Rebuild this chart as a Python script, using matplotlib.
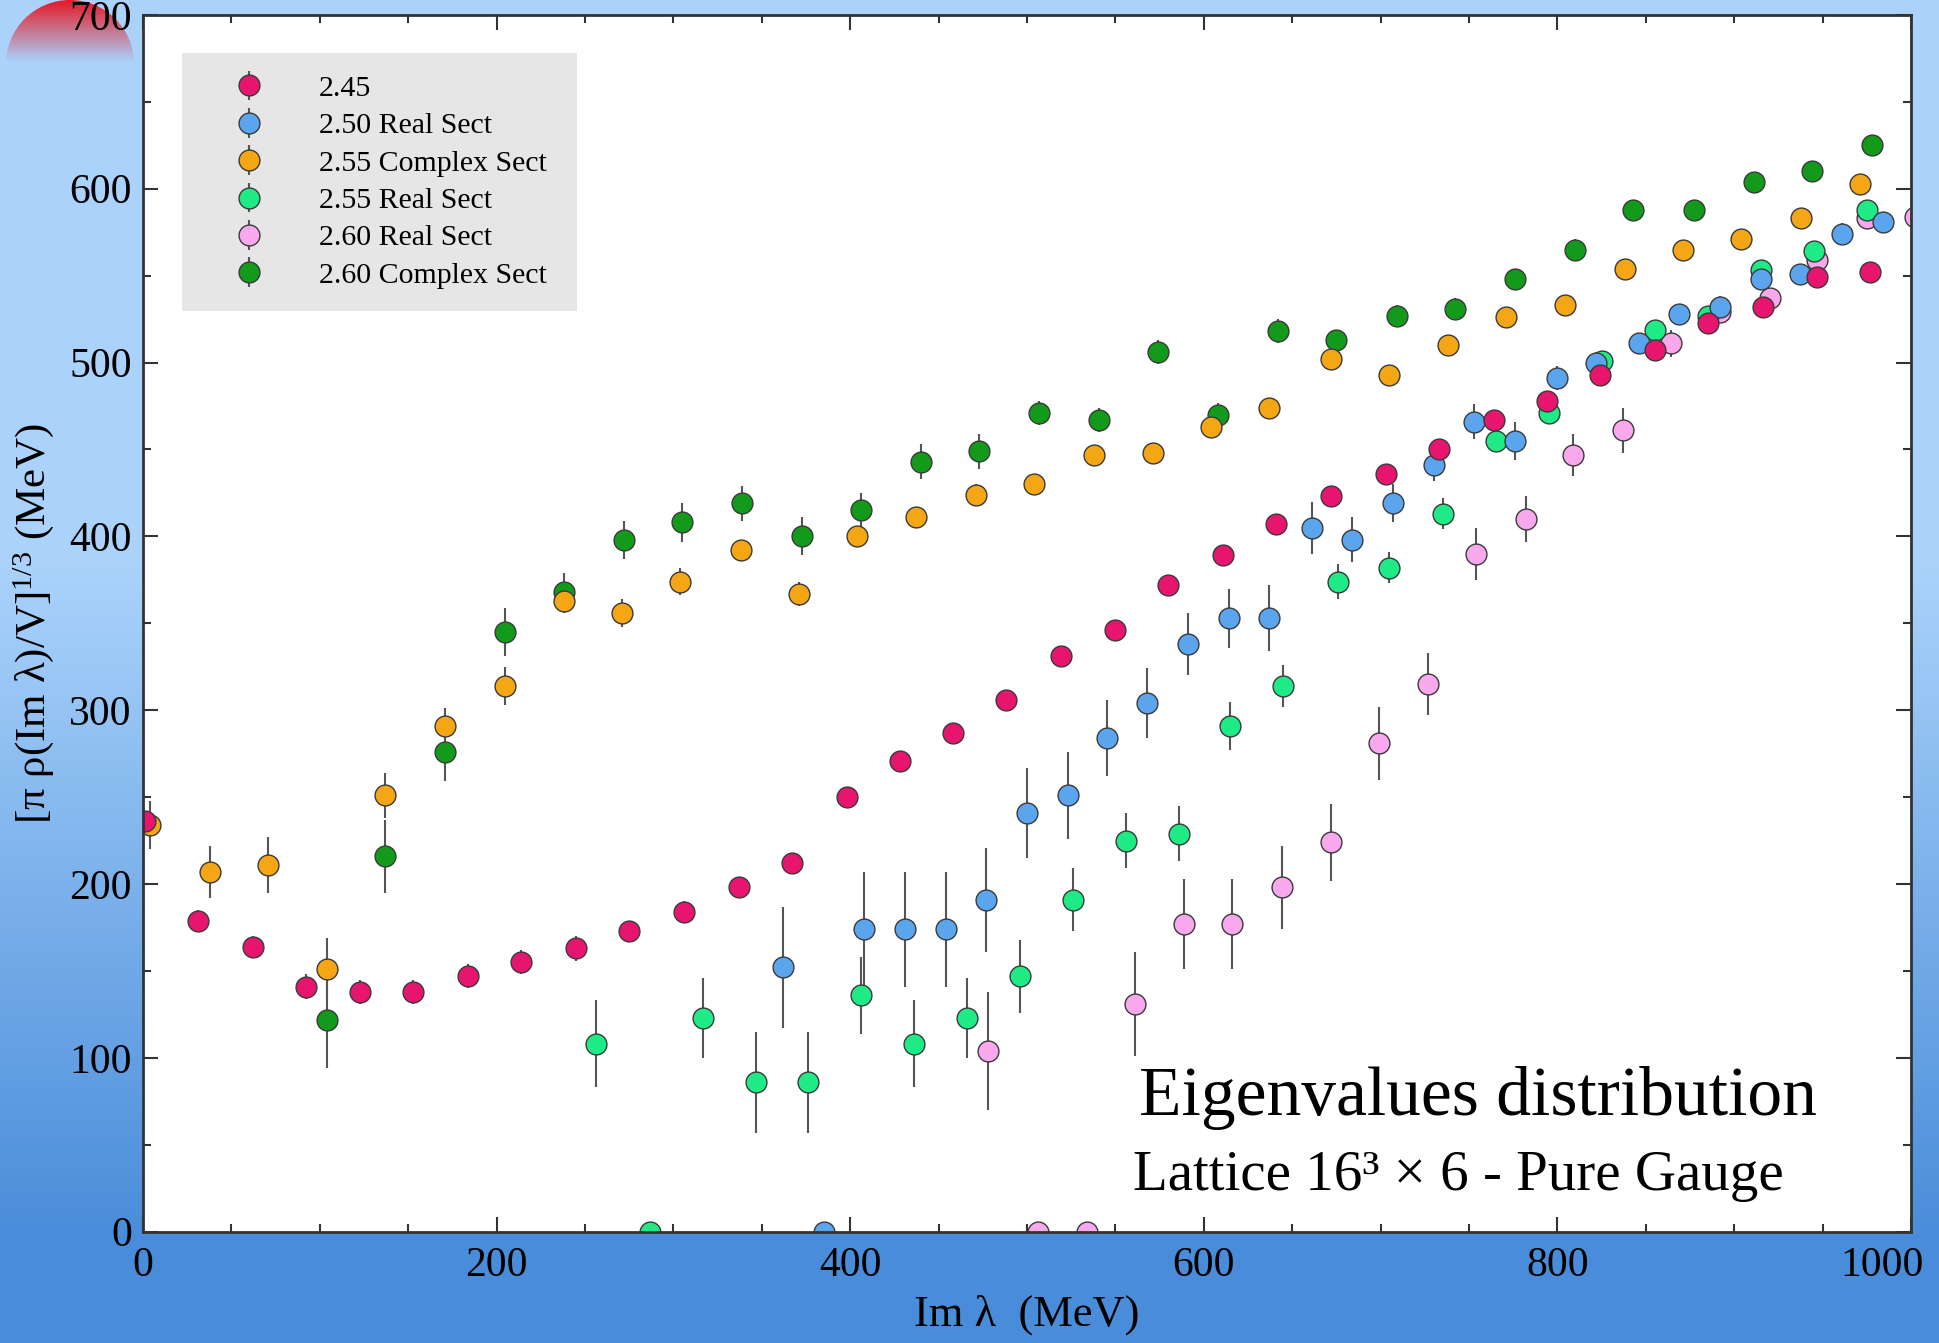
import numpy as np
import matplotlib
matplotlib.use("Agg")
import matplotlib.pyplot as plt
from matplotlib.patches import Circle
from matplotlib.ticker import MultipleLocator, FuncFormatter

plt.rcParams['font.family'] = ['Liberation Serif', 'DejaVu Serif']
plt.rcParams['mathtext.fontset'] = 'custom'
plt.rcParams['mathtext.rm'] = 'Liberation Serif'
plt.rcParams['mathtext.it'] = 'Liberation Serif:italic'

# beta = 2.45
x_245 = [1, 31, 62, 92, 123, 153, 184, 214, 245, 275, 306, 337, 367, 398, 428, 458, 488,
         519, 550, 580, 611, 641, 672, 703, 733, 764, 794, 824, 855, 885, 916, 947, 977]
y_245 = [236, 179, 164, 141, 138, 138, 147, 155, 163, 173, 184, 198, 212, 250, 271, 287, 306,
         331, 346, 372, 389, 407, 423, 436, 450, 467, 478, 493, 507, 523, 532, 549, 552]
e_245 = [5, 6, 6, 7, 7, 7, 7, 7, 7, 6, 6, 5, 5, 4, 4, 4, 4,
         4, 4, 4, 4, 4, 4, 4, 4, 4, 4, 4, 4, 4, 4, 4, 4]

# beta = 2.50 real sector
x_250r = [362, 385, 408, 431, 454, 477, 500, 523, 545, 568, 591, 614, 637, 661,
          684, 707, 730, 753, 776, 800, 822, 846, 869, 892, 915, 937, 961, 984]
y_250r = [152, 0, 174, 174, 174, 191, 241, 251, 284, 304, 338, 353, 353, 405,
          398, 419, 441, 466, 455, 491, 500, 511, 528, 532, 548, 551, 574, 581]
e_250r = [35, 0, 33, 33, 33, 30, 26, 25, 22, 20, 18, 17, 19, 15,
          13, 11, 9, 10, 11, 7, 6, 6, 5, 6, 6, 5, 6, 5]

# beta = 2.55 complex sector
x_255c = [4, 38, 71, 104, 137, 171, 205, 238, 271, 304, 338, 371, 404, 437, 471,
          504, 538, 571, 604, 637, 672, 705, 738, 771, 804, 838, 871, 904, 938, 971]
y_255c = [234, 207, 211, 151, 251, 291, 314, 363, 356, 374, 392, 367, 400, 411, 424,
          430, 447, 448, 463, 474, 502, 493, 510, 526, 533, 554, 565, 571, 583, 603]
e_255c = [14, 15, 16, 18, 13, 10, 11, 7, 8, 8, 6, 7, 6, 6, 6,
          5, 5, 5, 5, 5, 5, 5, 4, 4, 4, 4, 4, 4, 4, 4]

# beta = 2.55 real sector
x_255r = [256, 287, 317, 347, 376, 406, 436, 466, 496, 526, 556, 586, 615,
          645, 676, 705, 735, 765, 795, 825, 855, 885, 915, 945, 975]
y_255r = [108, 0, 123, 86, 86, 136, 108, 123, 147, 191, 225, 229, 291,
          314, 374, 382, 413, 455, 471, 501, 519, 527, 553, 564, 588]
e_255r = [25, 0, 23, 29, 29, 22, 25, 23, 21, 18, 16, 16, 14,
          12, 10, 9, 9, 5, 5, 5, 5, 5, 5, 5, 5]

# beta = 2.60 real sector
x_260r = [478, 506, 534, 561, 589, 616, 644, 672, 699, 727, 754, 782, 809, 837,
          864, 892, 920, 947, 975, 1002]
y_260r = [104, 0, 0, 131, 177, 177, 198, 224, 281, 315, 390, 410, 447, 461,
          511, 529, 537, 559, 583, 584]
e_260r = [34, 0, 0, 30, 26, 26, 24, 22, 21, 18, 15, 13, 12, 13,
          8, 6, 6, 6, 6, 6]

# beta = 2.60 complex sector
x_260c = [104, 137, 171, 205, 238, 272, 305, 339, 373, 406, 440, 473, 507, 541,
          574, 608, 642, 675, 709, 742, 776, 810, 843, 877, 911, 944, 978]
y_260c = [122, 216, 276, 345, 368, 398, 408, 419, 400, 415, 443, 449, 471, 467,
          506, 470, 518, 513, 527, 531, 548, 565, 588, 588, 604, 610, 625]
e_260c = [28, 21, 17, 14, 11, 11, 11, 10, 11, 10, 10, 10, 7, 7,
          7, 7, 7, 6, 6, 6, 6, 6, 5, 5, 5, 5, 5]

fig = plt.figure(figsize=(19.39, 13.43), dpi=100)

# slide background: light blue fading to darker blue
bg = fig.add_axes([0, 0, 1, 1], zorder=-10)
t = np.linspace(0, 1, 500)[:, None]
top = np.array([0.667, 0.827, 0.984])
bot = np.array([0.290, 0.553, 0.855])
w = np.clip((t - 0.42) / 0.5, 0, 1)[..., None]
grad = top * (1 - w) + bot * w
bg.imshow(grad, extent=[0, 1939, 1343, 0], aspect='auto')
cap = np.zeros((100, 1, 4))
cap[..., 0] = 0.90
cap[..., 1] = 0.10
cap[..., 2] = 0.15
cap[..., 3] = np.linspace(1, 0, 100)[:, None]
im = bg.imshow(cap, extent=[5, 135, 62, 0], aspect='auto')
im.set_clip_path(Circle((70, 64), 64, transform=bg.transData))
bg.set_xlim(0, 1939)
bg.set_ylim(1343, 0)
bg.axis('off')

ax = fig.add_axes([0.0737, 0.0829, 0.9119, 0.906])
ax.set_facecolor('white')

style = dict(fmt='o', ms=15, mec='#3a3a3a', mew=1.0, ecolor='#555555',
             elinewidth=1.5, capsize=0)
h260c = ax.errorbar(x_260c, y_260c, yerr=e_260c, mfc='#139a1a', **style)
h260r = ax.errorbar(x_260r, y_260r, yerr=e_260r, mfc='#f9a8ee', **style)
h255r = ax.errorbar(x_255r, y_255r, yerr=e_255r, mfc='#1eeb85', **style)
h255c = ax.errorbar(x_255c, y_255c, yerr=e_255c, mfc='#f5a614', **style)
h250r = ax.errorbar(x_250r, y_250r, yerr=e_250r, mfc='#5aa5ee', **style)
h245 = ax.errorbar(x_245, y_245, yerr=e_245, mfc='#e8156f', **style)

ax.set_xlim(0, 1000)
ax.set_ylim(0, 700)
ax.xaxis.set_major_locator(MultipleLocator(200))
ax.xaxis.set_minor_locator(MultipleLocator(50))
ax.yaxis.set_major_locator(MultipleLocator(100))
ax.yaxis.set_minor_locator(MultipleLocator(50))
# last x label is drawn by hand so it stays inside the figure
ax.xaxis.set_major_formatter(FuncFormatter(lambda v, p: '' if v >= 1000 else f'{v:.0f}'))
ax.tick_params(which='both', direction='in', top=True, right=True, width=1.5,
               color='#333333', labelsize=30)
ax.tick_params(which='major', length=11)
ax.tick_params(which='minor', length=6)
ax.tick_params(axis='x', pad=11)
ax.tick_params(axis='y', pad=8)
ax.annotate('1000', xy=(1, 0), xycoords='axes fraction', xytext=(9, -11),
            textcoords='offset points', ha='right', va='top', fontsize=30)
for s in ax.spines.values():
    s.set_color('#333333')
    s.set_linewidth(2)

ax.set_xlabel('Im λ  (MeV)', fontsize=32)
ax.xaxis.set_label_coords(0.5, -0.052)
ax.set_ylabel(r'[π ρ(Im λ)/V]$^{\mathrm{1/3}}$ (MeV)', fontsize=31)
ax.yaxis.set_label_coords(-0.049, 0.5)

ax.text(755, 77, 'Eigenvalues distribution', fontsize=50, ha='center', va='center')
ax.text(744, 32, 'Lattice 16³ × 6 - Pure Gauge', fontsize=41, ha='center', va='center')

handles = [h245, h250r, h255c, h255r, h260r, h260c]
labels = ['2.45', '2.50 Real Sect', '2.55 Complex Sect', '2.55 Real Sect',
          '2.60 Real Sect', '2.60 Complex Sect']
leg = ax.legend(handles, labels, loc='upper left', bbox_to_anchor=(0.022, 0.759, 0.2235, 0.21),
                mode='expand', borderaxespad=0, fontsize=21.5, frameon=True, fancybox=False,
                facecolor='#e6e6e6', edgecolor='none', framealpha=1,
                borderpad=0.75, handlelength=3.0, handletextpad=0.85, labelspacing=0.35)

fig.savefig('out.png', dpi=100)
